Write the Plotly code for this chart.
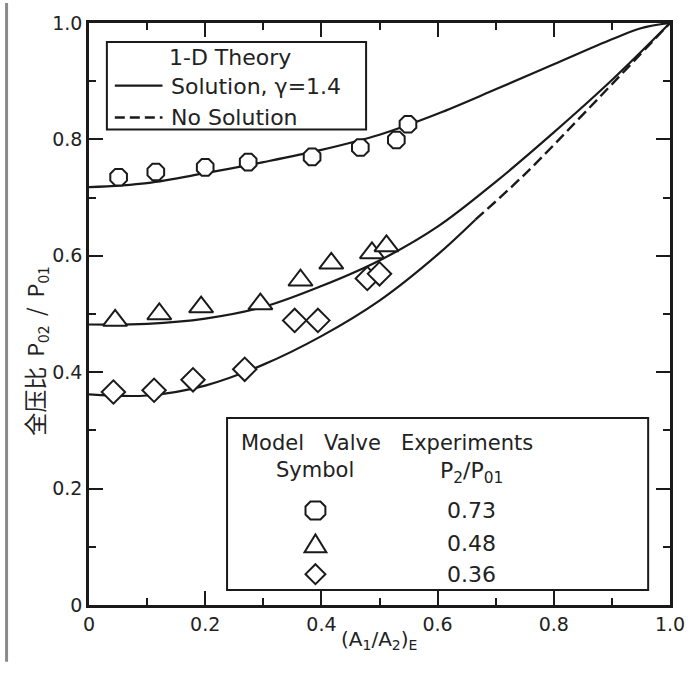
import plotly.graph_objects as go

# ---------------- data ----------------
# theory curves (1-D theory, gamma = 1.4)
x_up = [0, 0.1, 0.2, 0.3, 0.4, 0.5, 0.6, 0.7, 0.8, 0.9, 0.95, 1.0]
y_up = [0.718, 0.725, 0.742, 0.761, 0.782, 0.808, 0.844, 0.886, 0.929, 0.972, 0.991, 1.0]

x_mid = [0, 0.1, 0.2, 0.3, 0.4, 0.5, 0.6, 0.7, 0.8, 0.9, 1.0]
y_mid = [0.482, 0.483, 0.492, 0.512, 0.548, 0.592, 0.650, 0.727, 0.812, 0.902, 1.0]

x_low = [0, 0.1, 0.2, 0.3, 0.4, 0.5, 0.6, 0.665]
y_low = [0.362, 0.360, 0.377, 0.413, 0.462, 0.523, 0.602, 0.662]

x_dash = [0.665, 0.75, 0.86, 1.0]
y_dash = [0.662, 0.740, 0.853, 1.0]

# experiments
x_073 = [0.051, 0.115, 0.200, 0.274, 0.384, 0.467, 0.529, 0.549]
y_073 = [0.735, 0.744, 0.752, 0.761, 0.770, 0.786, 0.799, 0.826]

x_048 = [0.045, 0.121, 0.193, 0.295, 0.364, 0.417, 0.487, 0.512]
y_048 = [0.489, 0.500, 0.512, 0.517, 0.558, 0.587, 0.605, 0.617]

x_036 = [0.042, 0.112, 0.179, 0.268, 0.354, 0.394, 0.479, 0.500]
y_036 = [0.366, 0.369, 0.387, 0.405, 0.489, 0.489, 0.561, 0.569]

tick_vals = [0, 0.2, 0.4, 0.6, 0.8, 1.0]
tick_text = ["0", "0.2", "0.4", "0.6", "0.8", "1.0"]

legend_values = ["0.73", "0.48", "0.36"]

# ---------------- figure ----------------
INK = "#1a1a1a"
FONT = "DejaVu Sans"

fig = go.Figure()

for xs, ys in [(x_up, y_up), (x_mid, y_mid), (x_low, y_low)]:
    fig.add_trace(go.Scatter(x=xs, y=ys, mode="lines",
                             line=dict(color=INK, width=2.2, shape="spline"),
                             showlegend=False, hoverinfo="skip"))
fig.add_trace(go.Scatter(x=x_dash, y=y_dash, mode="lines",
                         line=dict(color=INK, width=2.4, dash="11px,5px", shape="spline"),
                         showlegend=False, hoverinfo="skip"))

for xs, ys, sym, sz in [(x_073, y_073, "octagon", 18),
                        (x_048, y_048, "triangle-up", 21),
                        (x_036, y_036, "diamond", 18)]:
    fig.add_trace(go.Scatter(x=xs, y=ys, mode="markers",
                             marker=dict(symbol=sym, size=sz, color="white",
                                         line=dict(color=INK, width=2)),
                             showlegend=False))

axis_common = dict(
    range=[0, 1], tickvals=tick_vals, ticktext=tick_text,
    ticks="inside", ticklen=14, tickwidth=2, tickcolor=INK,
    minor=dict(dtick=0.1, ticks="inside", ticklen=7, tickwidth=1.5, tickcolor=INK),
    showline=True, linewidth=2.5, linecolor=INK, mirror="ticks",
    showgrid=False, zeroline=False,
    tickfont=dict(family=FONT, size=19, color="#222"),
)

fig.update_layout(
    width=697, height=676,
    margin=dict(l=89, r=23, t=20, b=71),
    paper_bgcolor="white", plot_bgcolor="white",
    xaxis=dict(**axis_common),
    yaxis=dict(**axis_common),
    font=dict(family=FONT, color="#222"),
)

PX0, PY0, S = 89.0, 605.0, 585.0


def px(x):
    return (x - PX0) / S


def py(y):
    return (PY0 - y) / S


shapes = []
# top legend box
shapes.append(dict(type="rect", xref="paper", yref="paper",
                   x0=px(107), x1=px(368), y0=py(127), y1=py(39),
                   line=dict(color=INK, width=2), fillcolor="white", layer="below"))
shapes.append(dict(type="line", xref="paper", yref="paper",
                   x0=px(115), x1=px(163), y0=py(83), y1=py(83),
                   line=dict(color=INK, width=2.2)))
shapes.append(dict(type="line", xref="paper", yref="paper",
                   x0=px(115), x1=px(163), y0=py(115), y1=py(115),
                   line=dict(color=INK, width=2.5, dash="10px,5px")))
# bottom legend box
shapes.append(dict(type="rect", xref="paper", yref="paper",
                   x0=px(228), x1=px(652), y0=py(590), y1=py(417),
                   line=dict(color=INK, width=2), fillcolor="white", layer="below"))


def path(points):
    return "M " + " L ".join(f"{px(a):.5f},{py(b):.5f}" for a, b in points) + " Z"


# legend symbols (octagon, triangle, diamond)
cx = 317
oc = [(cx - 5, 501), (cx + 5, 501), (cx + 10, 506), (cx + 10, 514),
      (cx + 5, 519), (cx - 5, 519), (cx - 10, 514), (cx - 10, 506)]
tri = [(cx - 11, 552), (cx + 11, 552), (cx, 534)]
dia = [(cx, 564), (cx + 10, 574), (cx, 584), (cx - 10, 574)]
for pts in (oc, tri, dia):
    shapes.append(dict(type="path", xref="paper", yref="paper", path=path(pts),
                       line=dict(color=INK, width=2)))

# scan border on the left
shapes.append(dict(type="line", xref="paper", yref="paper",
                   x0=px(6), x1=px(6), y0=py(0), y1=py(662),
                   line=dict(color="#8a8a8a", width=3)))
fig.update_layout(shapes=shapes)

ann = []


def text(x, y, s, size=19, xanchor="center", yanchor="middle", **kw):
    ann.append(dict(x=px(x), y=py(y), xref="paper", yref="paper", text=s,
                    showarrow=False, xanchor=xanchor, yanchor=yanchor,
                    font=dict(family=FONT, size=size, color="#222"), **kw))


text(231, 55, "1-D Theory", size=22)
text(170, 84, "Solution, γ=1.4", size=22, xanchor="left")
text(170, 115, "No Solution", size=22, xanchor="left")

text(240, 442, "Model   Valve   Experiments", size=21, xanchor="left")
text(317, 469, "Symbol", size=21)
text(474, 472, "P<sub>2</sub>/P<sub>01</sub>", size=22)
for i, v in enumerate(legend_values):
    yy = [510, 543, 574][i]
    text(474, yy, v, size=22)

# axis titles
text(381, 640, "(A<sub>1</sub>/A<sub>2</sub>)<sub>E</sub>", size=20)
ann.append(dict(x=px(35), y=py(350), xref="paper", yref="paper",
                text="<span style='font-size:23px'>全压比</span>&nbsp;&nbsp;"
                     "<span style='font-size:22px'>P<sub>02</sub>&nbsp;&nbsp;/&nbsp;&nbsp;P<sub>01</sub></span>",
                textangle=-90,
                showarrow=False, xanchor="center", yanchor="middle",
                font=dict(family="Noto Sans CJK SC, " + FONT, size=22, color="#222")))

fig.update_layout(annotations=ann)

fig.write_html("out.html")
